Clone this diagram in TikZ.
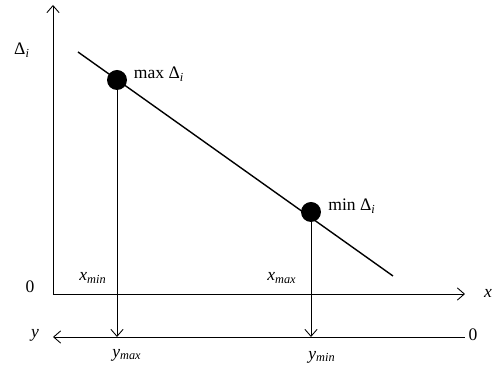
\documentclass[tikz,border=0pt]{standalone}
\usepackage{fontspec}
\setmainfont{Liberation Serif}
\usetikzlibrary{positioning,calc,arrows.meta}

\tikzset{
  dot/.style={circle, fill=black, inner sep=0pt, minimum size=0.4cm},
  lbl/.style={inner sep=1pt, font=\fontsize{10}{12}\selectfont},
  axis/.style={-{Straight Barb[length=4pt,width=7pt]}, line width=0.5pt}
}

\begin{document}
\begin{tikzpicture}[x=0.02cm, y=-0.02cm]
            \useasboundingbox (0,0) rectangle (495,367);
            % axes
            \coordinate (O) at (53,294);
            \coordinate (ytop) at (53,5);
            \coordinate (xend) at (465,294);
            \coordinate (yleft) at (53,337);
            \coordinate (yright) at (465,337);
            \draw[axis] (O) -- (ytop);
            \draw[axis] (O) -- (xend);
            \draw[axis] (yright) -- (yleft);
            
            % line and points
            \coordinate (lstart) at (78,52);
            \coordinate (lend) at (393,276);
            \draw[line width=0.8pt] (lstart) -- (lend);
            \node[dot] (pmax) at (117,80) {};
            \node[dot] (pmin) at (311,212) {};
            \coordinate (ymaxfoot) at (117,337);
            \coordinate (yminfoot) at (311,337);
            \draw[axis] (pmax.center) -- (ymaxfoot);
            \draw[axis] (pmin.center) -- (yminfoot);
            
            % labels
            \node[lbl] (dlabel) at (22,50) {Δ\textsubscript{\textit{i}}};
            \node[lbl] (zerox) at (30,287) {0};
            \node[lbl] (xlabel) at (488,293) {\textit{x}};
            \node[lbl] (ylabel) at (35,335) {\textit{y}};
            \node[lbl] (zeroy) at (473,335) {0};
            \node[lbl] (maxlbl) at (159,74) {max Δ\textsubscript{\textit{i}}};
            \node[lbl] (minlbl) at (352,206) {min Δ\textsubscript{\textit{i}}};
            \node[lbl] (xminlbl) at (93,278) {\textit{x}\textsubscript{\textit{min}}};
            \node[lbl] (xmaxlbl) at (282,278) {\textit{x}\textsubscript{\textit{max}}};
            \node[lbl] (ymaxlbl) at (127,355) {\textit{y}\textsubscript{\textit{max}}};
            \node[lbl] (yminlbl) at (322,357) {\textit{y}\textsubscript{\textit{min}}};
        \end{tikzpicture}
\end{document}
